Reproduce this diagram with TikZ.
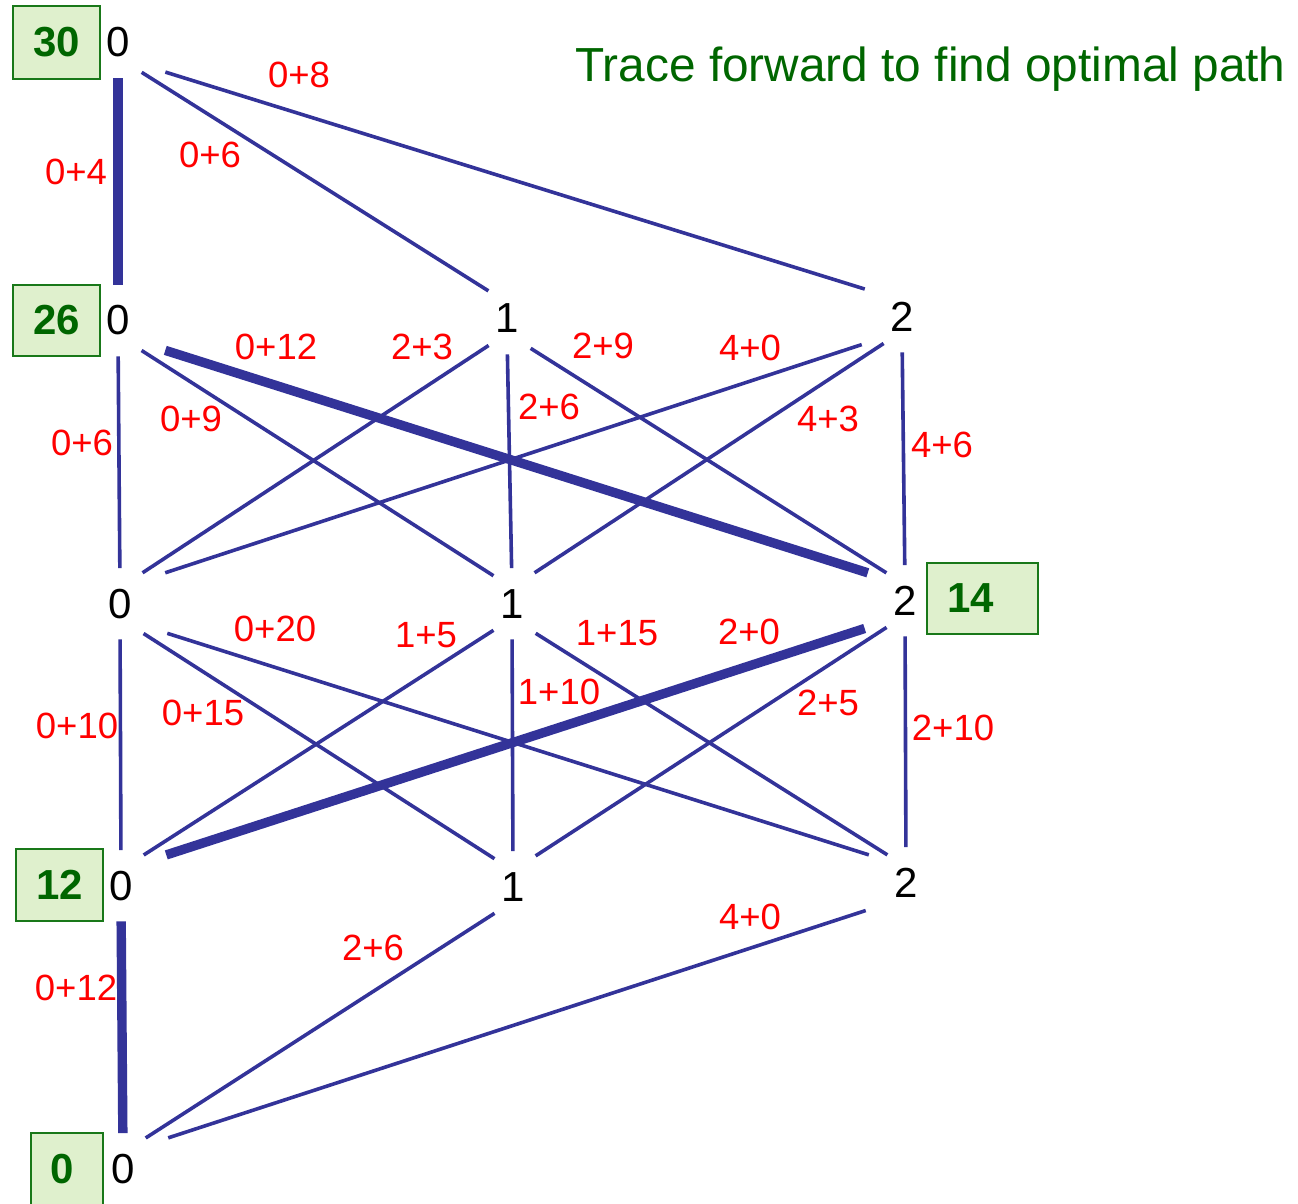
\documentclass[tikz,border=0pt]{standalone}
\usepackage{fontspec}
\setmainfont{Liberation Sans}
\definecolor{edgec}{RGB}{51,51,153}
\definecolor{boxfill}{RGB}{223,240,205}
\definecolor{boxline}{RGB}{25,120,25}
\definecolor{ttl}{RGB}{0,102,0}
\begin{document}
\begin{tikzpicture}[x=0.5pt,y=-0.5pt,
  lab/.style={font=\fontsize{21pt}{25pt}\selectfont, inner sep=0pt, text height=15pt, text depth=-2.5pt, anchor=base},
  cost/.style={text=red, font=\fontsize{18.25pt}{22pt}\selectfont, inner sep=0pt},
  valbox/.style={draw=boxline, fill=boxfill, line width=1pt, text=ttl, font=\bfseries\fontsize{21pt}{25pt}\selectfont, inner sep=0pt},
  edge/.style={draw=edgec, line width=1.8pt},
  best/.style={draw=edgec, line width=4.7pt},
  ve/.style={shorten <=10.5pt, shorten >=9.75pt},
  sr/.style={shorten <=14pt, shorten >=11pt},
  sl/.style={shorten <=11pt, shorten >=13.5pt},
  lr/.style={shorten <=24.8pt, shorten >=19.5pt},
  ll/.style={shorten <=21.2pt, shorten >=23.8pt}]
\useasboundingbox (0,0) rectangle (1298,1204);

% stage labels
\node[lab] (n00) at (118,57) {0};
\node[lab] (n10) at (118,335) {0};
\node[lab] (n11) at (507,333) {1};
\node[lab] (n12) at (902,331) {2};
\node[lab] (n20) at (120,618) {0};
\node[lab] (n21) at (512,618) {1};
\node[lab] (n22) at (905,615) {2};
\node[lab] (n30) at (121,900) {0};
\node[lab] (n31) at (513,901) {1};
\node[lab] (n32) at (906,897) {2};
\node[lab] (n40) at (123,1183) {0};

% value boxes
\node[valbox, minimum width=43.5pt, minimum height=36.5pt] (b30) at (56.5,42.5) {30};
\node[valbox, minimum width=43.5pt, minimum height=35.5pt] (b26) at (56.5,320.5) {26};
\node[valbox, minimum width=55.5pt, minimum height=35.5pt] (b14) at (982.5,598.5) {14\kern11.5pt};
\node[valbox, minimum width=43.5pt, minimum height=36pt] (b12) at (59.5,885) {12};
\node[valbox, minimum width=36pt, minimum height=36pt] (b0) at (67,1169) {0\kern5pt};

% title
\node[font=\fontsize{23.9pt}{28pt}\selectfont, text=ttl, anchor=base west, inner sep=0pt] (title) at (575,82) {Trace forward to find optimal path};

% edges stage 0 -> 1
\draw[best,ve] (n00.south) -- (n10.north);
\draw[edge,sr] (n00.south) -- (n11.north);
\draw[edge,lr] (n00.south) -- (n12.north);
% stage 1 -> 2
\draw[edge,ve] (n10.south) -- (n20.north);
\draw[edge,sr] (n10.south) -- (n21.north);
\draw[best,lr] (n10.south) -- (n22.north);
\draw[edge,sl] (n11.south) -- (n20.north);
\draw[edge,ve] (n11.south) -- (n21.north);
\draw[edge,sr] (n11.south) -- (n22.north);
\draw[edge,ll] (n12.south) -- (n20.north);
\draw[edge,sl] (n12.south) -- (n21.north);
\draw[edge,ve] (n12.south) -- (n22.north);
% stage 2 -> 3
\draw[edge,ve] (n20.south) -- (n30.north);
\draw[edge,sr] (n20.south) -- (n31.north);
\draw[edge,lr] (n20.south) -- (n32.north);
\draw[edge,sl] (n21.south) -- (n30.north);
\draw[edge,ve] (n21.south) -- (n31.north);
\draw[edge,sr] (n21.south) -- (n32.north);
\draw[best,ll] (n22.south) -- (n30.north);
\draw[edge,sl] (n22.south) -- (n31.north);
\draw[edge,ve] (n22.south) -- (n32.north);
% stage 3 -> 4
\draw[best,ve] (n30.south) -- (n40.north);
\draw[edge,sl] (n31.south) -- (n40.north);
\draw[edge,ll] (n32.south) -- (n40.north);

% cost labels
\node[cost] (c1) at (299,75) {0+8};
\node[cost] (c2) at (210,155) {0+6};
\node[cost] (c3) at (76,172) {0+4};
\node[cost] (c4) at (276,347) {0+12};
\node[cost] (c5) at (422,347) {2+3};
\node[cost] (c6) at (603,346) {2+9};
\node[cost] (c7) at (750,348) {4+0};
\node[cost] (c8) at (191,419) {0+9};
\node[cost] (c9) at (549,407) {2+6};
\node[cost] (c10) at (828,419) {4+3};
\node[cost] (c11) at (82,443) {0+6};
\node[cost] (c12) at (942,445) {4+6};
\node[cost] (c13) at (275,629) {0+20};
\node[cost] (c14) at (426,635) {1+5};
\node[cost] (c15) at (617,633) {1+15};
\node[cost] (c16) at (749,632) {2+0};
\node[cost] (c17) at (559,692) {1+10};
\node[cost] (c18) at (828,703) {2+5};
\node[cost] (c19) at (77,726) {0+10};
\node[cost] (c20) at (203,713) {0+15};
\node[cost] (c21) at (953,728) {2+10};
\node[cost] (c22) at (750,917) {4+0};
\node[cost] (c23) at (373,948) {2+6};
\node[cost] (c24) at (76,988) {0+12};
\end{tikzpicture}
\end{document}
